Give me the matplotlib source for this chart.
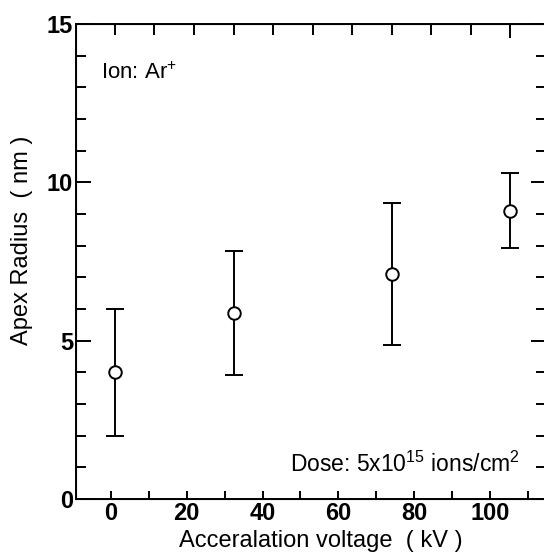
import numpy as np
import matplotlib
matplotlib.use("Agg")
import matplotlib.pyplot as plt
from matplotlib.ticker import MultipleLocator, FixedLocator

plt.rcParams['font.family'] = ['Liberation Sans', 'DejaVu Sans']
plt.rcParams['mathtext.fontset'] = 'custom'
plt.rcParams['mathtext.rm'] = 'Liberation Sans'
plt.rcParams['mathtext.it'] = 'Liberation Sans'
plt.rcParams['mathtext.bf'] = 'Liberation Sans:bold'

# data (acceleration voltage in kV, apex radius in nm)
voltage = [0, 30, 70, 100]
radius = [4.0, 5.88, 7.1, 9.1]
err_up = [2.0, 1.95, 2.24, 1.18]
err_down = [2.0, 1.96, 2.24, 1.17]

bottom_ticks = [0, 20, 40, 60, 80, 100]

fig = plt.figure(figsize=(5.44, 5.57), dpi=100)
ax = fig.add_axes([76/544, 58/557, 470/544, 475/557])

# bottom axis (labels) - slightly different scale than the data axis on top
ax.set_xlim(-9.15, 114.7)
ax.set_ylim(0, 15)
ax.xaxis.set_major_locator(FixedLocator(bottom_ticks))
ax.xaxis.set_minor_locator(MultipleLocator(10))
ax.yaxis.set_major_locator(MultipleLocator(5))
ax.yaxis.set_minor_locator(MultipleLocator(1))
ax.tick_params(axis='x', which='both', direction='in', length=6, width=1.4,
               top=False, labelsize=17, pad=2)
ax.tick_params(axis='y', which='major', direction='in', length=11, width=1.4,
               right=True, labelsize=17, pad=2)
ax.tick_params(axis='y', which='minor', direction='in', length=7, width=1.4,
               right=True)
for lab in ax.get_xticklabels() + ax.get_yticklabels():
    lab.set_fontweight('bold')
for s in ax.spines.values():
    s.set_linewidth(1.4)

# top axis carries the data
ax2 = ax.twiny()
ax2.set_xlim(-9.87, 109.1)
ax2.xaxis.set_major_locator(FixedLocator([100]))
ax2.xaxis.set_minor_locator(MultipleLocator(10))
ax2.tick_params(axis='x', which='major', direction='in', length=10, width=1.4,
                labeltop=False)
ax2.tick_params(axis='x', which='minor', direction='in', length=8, width=1.4)

ax2.errorbar(voltage, radius, yerr=[err_down, err_up], fmt='o', color='black',
             mfc='white', mec='black', ms=9, mew=1.4, elinewidth=1.4,
             capsize=6.5, capthick=1.4, zorder=3)

ax.set_xlabel('Acceralation voltage  ( kV )', fontsize=17)
ax.xaxis.set_label_coords((321-76)/470, -0.066)
ax.set_ylabel('Apex Radius  ( nm )', fontsize=17)
ax.yaxis.set_label_coords(-0.092, (499-240)/475)

ax.text(0.053, 0.884, 'Ion: Ar$^{+}$', transform=ax.transAxes, fontsize=16,
        va='baseline')
ax.text(0.945, 0.057, 'Dose: 5x10$^{15}$ ions/cm$^{2}$', transform=ax.transAxes,
        fontsize=16.5, va='baseline', ha='right')

fig.savefig('out.png', dpi=100)
